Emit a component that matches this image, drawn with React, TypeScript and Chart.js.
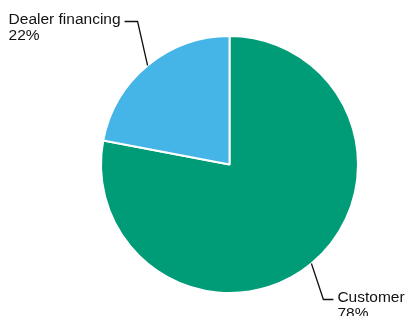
import React, { useEffect, useRef } from "react";
import { Chart, registerables } from "chart.js";

Chart.register(...registerables);

const categories = ["Customer", "Dealer financing"];
const values = [78, 22];
const percentLabels = ["78%", "22%"];
const colors = ["#009B77", "#45B4E6"];

const labelPlugin = {
  id: "leaderLabels",
  afterDatasetsDraw(chart: any) {
    const ctx = chart.ctx;
    const meta = chart.getDatasetMeta(0);
    const offsets = [
      { dx: 12, dy: 36, hx: 10 },
      { dx: -10, dy: -44, hx: -13 },
    ];
    ctx.save();
    ctx.font = "15.5px 'Liberation Sans', Arial, sans-serif";
    ctx.fillStyle = "#111";
    ctx.strokeStyle = "#111";
    ctx.lineWidth = 1.3;
    meta.data.forEach((arc: any, i: number) => {
      const mid = (arc.startAngle + arc.endAngle) / 2;
      const sx = arc.x + Math.cos(mid) * arc.outerRadius;
      const sy = arc.y + Math.sin(mid) * arc.outerRadius;
      const o = offsets[i];
      const ex = sx + o.dx;
      const ey = sy + o.dy;
      const hx = ex + o.hx;
      ctx.beginPath();
      ctx.moveTo(sx, sy);
      ctx.lineTo(ex, ey);
      ctx.lineTo(hx, ey);
      ctx.stroke();
      const lines = [categories[i], percentLabels[i]];
      const w = Math.max(...lines.map((l) => ctx.measureText(l).width));
      const tx = o.hx > 0 ? hx + 4 : hx - 4 - w;
      ctx.textAlign = "left";
      ctx.textBaseline = "middle";
      lines.forEach((l, k) => ctx.fillText(l, tx, ey - 2 + k * 16));
    });
    ctx.restore();
  },
};

export default function App() {
  const ref = useRef<HTMLCanvasElement>(null);
  useEffect(() => {
    document.body.style.margin = "0";
    const chart = new Chart(ref.current!, {
      type: "pie",
      data: {
        labels: categories,
        datasets: [
          {
            data: values,
            backgroundColor: colors,
            borderColor: "#ffffff",
            borderWidth: 2,
          },
        ],
      },
      options: {
        responsive: false,
        animation: false,
        layout: { padding: { left: 100, right: 48, top: 35, bottom: 22 } },
        plugins: { legend: { display: false }, tooltip: { enabled: false } },
      },
      plugins: [labelPlugin],
    });
    return () => chart.destroy();
  }, []);
  return <canvas ref={ref} width={407} height={316} style={{ display: "block" }} />;
}
